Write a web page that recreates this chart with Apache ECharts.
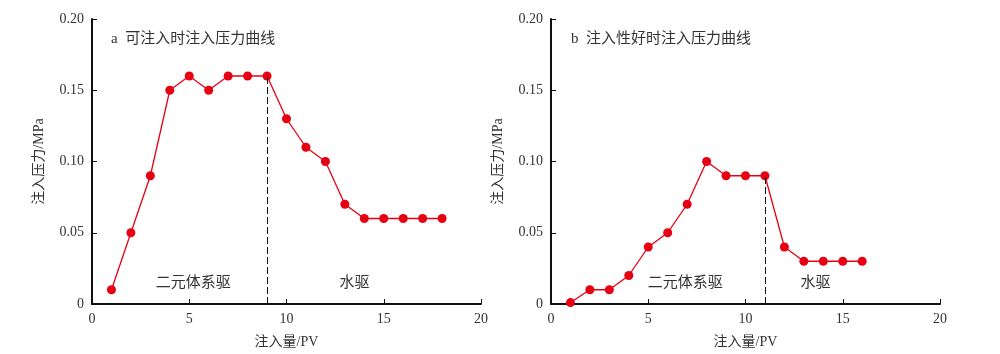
<!DOCTYPE html>
<html>
<head>
    <meta charset="UTF-8">
    <title>注入压力曲线</title>
    <script src="https://cdn.jsdelivr.net/npm/echarts@6/dist/echarts.min.js"></script>
    <style>
        html, body { margin: 0; padding: 0; background: #fff; }
        #chart { width: 1000px; height: 354px; }
    </style>
</head>
<body>
<div id="chart"></div>
<script type="text/javascript">
    // 数据
    const pvA = [1, 2, 3, 4, 5, 6, 7, 8, 9, 10, 11, 12, 13, 14, 15, 16, 17, 18];
    const pressureA = [0.01, 0.05, 0.09, 0.15, 0.16, 0.15, 0.16, 0.16, 0.16, 0.13, 0.11, 0.10, 0.07, 0.06, 0.06, 0.06, 0.06, 0.06];
    const pvB = [1, 2, 3, 4, 5, 6, 7, 8, 9, 10, 11, 12, 13, 14, 15, 16];
    const pressureB = [0.001, 0.01, 0.01, 0.02, 0.04, 0.05, 0.07, 0.10, 0.09, 0.09, 0.09, 0.04, 0.03, 0.03, 0.03, 0.03];
    const switchA = 9;
    const switchB = 11;
    const titles = ['a  可注入时注入压力曲线', 'b  注入性好时注入压力曲线'];
    const stageNames = ['二元体系驱', '水驱'];
    const stagePosA = [5.2, 13.5];
    const stagePosB = [6.9, 13.6];

    const font = '"Liberation Serif", "Noto Sans CJK SC", serif';
    const textColor = '#333';
    const red = '#e60012';

    let chart = echarts.init(document.getElementById('chart'));

    function xAxisOf(idx) {
        return {
            gridIndex: idx,
            type: 'value',
            min: 0, max: 20, interval: 5,
            name: '注入量/PV',
            nameLocation: 'middle',
            nameGap: 31,
            nameTextStyle: { fontFamily: font, fontSize: 14, color: textColor },
            axisLine: { lineStyle: { color: '#111', width: 2 } },
            axisTick: { inside: true, length: 5, lineStyle: { color: '#111', width: 1 } },
            axisLabel: { fontFamily: font, fontSize: 14, color: textColor, margin: 8 },
            splitLine: { show: false }
        };
    }

    function yAxisOf(idx) {
        return {
            gridIndex: idx,
            type: 'value',
            min: 0, max: 0.2, interval: 0.05,
            name: '注入压力/MPa',
            nameLocation: 'middle',
            nameGap: 46,
            nameTextStyle: { fontFamily: font, fontSize: 14, color: textColor },
            axisLine: { lineStyle: { color: '#111', width: 2 } },
            axisTick: { inside: true, length: 5, lineStyle: { color: '#111', width: 1 } },
            axisLabel: {
                fontFamily: font, fontSize: 14, color: textColor, margin: 8,
                formatter: v => v === 0 ? '0' : v.toFixed(2)
            },
            splitLine: { show: false }
        };
    }

    function seriesOf(idx, xs, ys, sw, stagePos) {
        let swY = ys[xs.indexOf(sw)];
        return {
            type: 'line',
            xAxisIndex: idx,
            yAxisIndex: idx,
            data: xs.map((x, i) => [x, ys[i]]),
            symbol: 'circle',
            symbolSize: 9,
            itemStyle: { color: red },
            lineStyle: { color: red, width: 1.3 },
            z: 3,
            markLine: {
                silent: true,
                symbol: 'none',
                label: { show: false },
                lineStyle: { color: '#111', type: [7, 3], width: 1 },
                data: [[{ coord: [sw, 0] }, { coord: [sw, swY] }]]
            },
            markPoint: {
                silent: true,
                symbol: 'circle',
                symbolSize: 0,
                label: {
                    show: true,
                    position: 'inside',
                    fontFamily: font,
                    fontSize: 15,
                    color: textColor,
                    formatter: p => p.name
                },
                data: stageNames.map((n, i) => ({ name: n, coord: [stagePos[i], 0.015] }))
            }
        };
    }

    let option = {
        animation: false,
        backgroundColor: '#fff',
        title: [
            { text: titles[0], left: 106, top: 27, textStyle: { fontFamily: font, fontSize: 15, fontWeight: 'normal', color: textColor } },
            { text: titles[1], left: 566, top: 27, textStyle: { fontFamily: font, fontSize: 15, fontWeight: 'normal', color: textColor } }
        ],
        grid: [
            { left: 92, top: 19, width: 389, bottom: 49 },
            { left: 551, top: 19, width: 389, bottom: 49 }
        ],
        xAxis: [xAxisOf(0), xAxisOf(1)],
        yAxis: [yAxisOf(0), yAxisOf(1)],
        series: [
            seriesOf(0, pvA, pressureA, switchA, stagePosA),
            seriesOf(1, pvB, pressureB, switchB, stagePosB)
        ]
    };
    chart.setOption(option);
</script>
</body>
</html>
